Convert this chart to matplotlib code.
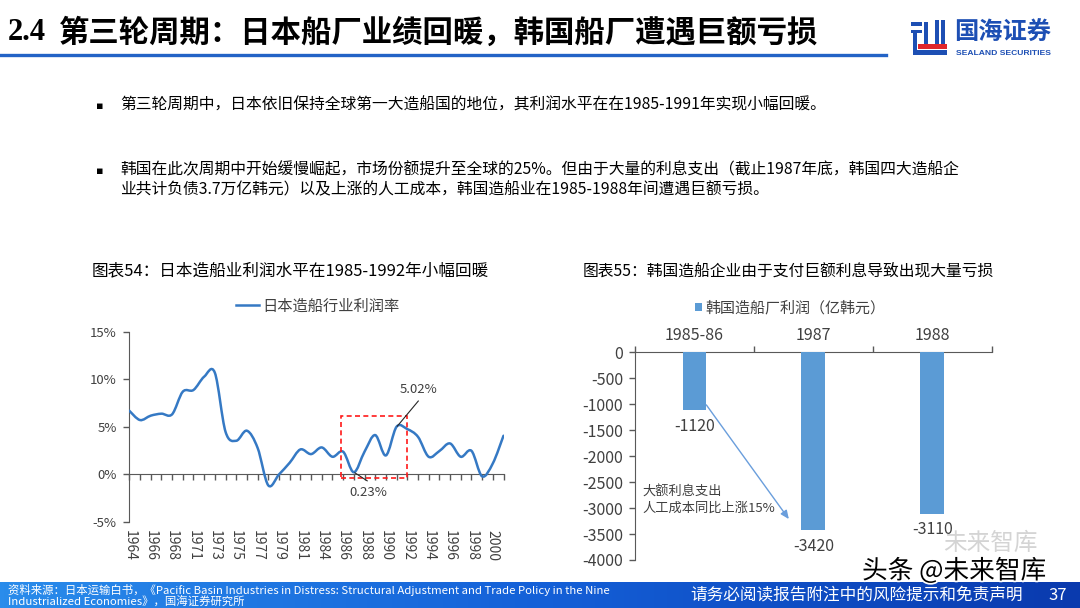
import numpy as np
import matplotlib
matplotlib.use('Agg')
import matplotlib.pyplot as plt
from matplotlib.path import Path
from matplotlib.patches import PathPatch, Rectangle
from matplotlib.lines import Line2D
import matplotlib.patheffects as pe
from matplotlib.colors import LinearSegmentedColormap

plt.rcParams['font.family'] = ['Noto Sans CJK SC', 'DejaVu Sans']

# ---------------- data ----------------
jp_years = ['1964', '1965', '1966', '1967', '1968', '1970', '1971', '1972', '1973',
            '1974', '1975', '1976', '1977', '1978', '1979', '1980', '1981', '1983',
            '1984', '1985', '1986', '1987', '1988', '1989', '1990', '1991', '1992',
            '1993', '1994', '1995', '1996', '1997', '1998', '1999', '2000', '2001']
jp_profit = [6.70, 5.72, 6.18, 6.39, 6.32, 8.70, 8.88, 10.28, 10.70,
             4.49, 3.54, 4.60, 2.80, -1.15, 0.00, 1.23, 2.63, 2.14,
             2.84, 1.86, 2.39, 0.23, 2.39, 4.14, 2.00, 5.02, 4.77,
             3.96, 1.86, 2.46, 3.26, 1.86, 2.49, -0.20, 1.16, 4.07]
jp_series = '日本造船行业利润率'
jp_yticks = [-5, 0, 5, 10, 15]
jp_yticklabels = ['-5%', '0%', '5%', '10%', '15%']

kr_periods = ['1985-86', '1987', '1988']
kr_profit = [-1120, -3420, -3110]
kr_series = '韩国造船厂利润（亿韩元）'
kr_yticks = [0, -500, -1000, -1500, -2000, -2500, -3000, -3500, -4000]

W, H = 1080, 608
fig = plt.figure(figsize=(W / 100, H / 100), dpi=100)
fig.patch.set_facecolor('white')


def fx(px):
    return px / W


def fy(py):
    return 1 - py / H


AX_C = '#595959'
TXT_C = '#404040'

# ---------------- header ----------------
fig.text(fx(8), fy(33), '2.4', family='Liberation Serif', weight='bold',
         fontsize=22, va='center', ha='left', color='black')
fig.text(fx(59), fy(33), '第三轮周期：日本船厂业绩回暖，韩国船厂遭遇巨额亏损',
         weight='bold', fontsize=21.9, va='center', ha='left', color='black')
fig.add_artist(Line2D([0, fx(886)], [fy(54.5), fy(54.5)], color='#2363C6', lw=2.4))

# logo icon (decorative)
def prect(x0, y0, x1, y1, c):
    fig.add_artist(Rectangle((fx(x0), fy(y1)), fx(x1) - fx(x0), fy(y0) - fy(y1),
                             facecolor=c, edgecolor='none'))

LB = '#1D4FB4'
prect(910.5, 22.5, 922, 26, LB)
prect(910.5, 29.5, 922, 33, LB)
prect(913, 33, 917, 50, LB)
prect(923.5, 22.5, 927.5, 44, LB)
prect(934.5, 20.5, 938.5, 44, LB)
prect(940.5, 20.5, 945, 44, LB)
prect(918, 44, 946.5, 49, '#E0262B')
prect(913, 50, 946.5, 55, LB)
fig.text(fx(954), fy(33), '国海证券', weight='bold', fontsize=17.5, color=LB,
         va='center', ha='left')
fig.text(fx(955.5), fy(53.5), 'SEALAND SECURITIES', family='Liberation Sans',
         weight='bold', fontsize=6.1, color=LB, va='center', ha='left')

# ---------------- bullets ----------------
bul_fs = 11.35
fig.text(fx(96), fy(106), '▪', family='DejaVu Sans', fontsize=8, va='center',
         ha='left', color='black')
fig.text(fx(120), fy(105), '第三轮周期中，日本依旧保持全球第一大造船国的地位，其利润水平在在1985-1991年实现小幅回暖。',
         fontsize=bul_fs, va='center', ha='left', color='black')
fig.text(fx(96), fy(171), '▪', family='DejaVu Sans', fontsize=8, va='center',
         ha='left', color='black')
fig.text(fx(120), fy(170), '韩国在此次周期中开始缓慢崛起，市场份额提升至全球的25%。但由于大量的利息支出（截止1987年底，韩国四大造船企',
         fontsize=bul_fs, va='center', ha='left', color='black')
fig.text(fx(120), fy(190), '业共计负债3.7万亿韩元）以及上涨的人工成本，韩国造船业在1985-1988年间遭遇巨额亏损。',
         fontsize=bul_fs, va='center', ha='left', color='black')

# ---------------- chart titles ----------------
fig.text(fx(92), fy(271), '图表54：日本造船业利润水平在1985-1992年小幅回暖',
         fontsize=11.95, va='center', ha='left', color='black')
fig.text(fx(583), fy(271), '图表55：韩国造船企业由于支付巨额利息导致出现大量亏损',
         fontsize=11.35, va='center', ha='left', color='black')

# ---------------- left chart ----------------
axL = fig.add_axes([fx(129.3), fy(522), fx(503.5) - fx(129.3), fy(331.8) - fy(522)])
n = len(jp_profit)
xs = np.arange(n, dtype=float)
ys = np.array(jp_profit, dtype=float)
verts = [(xs[0], ys[0])]
codes = [Path.MOVETO]
for i in range(n - 1):
    p0 = (xs[i - 1], ys[i - 1]) if i > 0 else (xs[i], ys[i])
    p1 = (xs[i], ys[i])
    p2 = (xs[i + 1], ys[i + 1])
    p3 = (xs[i + 2], ys[i + 2]) if i + 2 < n else p2
    c1 = (p1[0] + (p2[0] - p0[0]) / 6, p1[1] + (p2[1] - p0[1]) / 6)
    c2 = (p2[0] - (p3[0] - p1[0]) / 6, p2[1] - (p3[1] - p1[1]) / 6)
    verts += [c1, c2, p2]
    codes += [Path.CURVE4] * 3
LINE_C = '#3579C4'
axL.add_patch(PathPatch(Path(verts, codes), fill=False, edgecolor=LINE_C, lw=1.8,
                        capstyle='round', joinstyle='round', zorder=3))
axL.set_xlim(0, n - 1)
axL.set_ylim(-5, 15)
axL.set_yticks(jp_yticks)
axL.set_yticklabels(jp_yticklabels)
for s in ['top', 'right']:
    axL.spines[s].set_visible(False)
axL.spines['bottom'].set_position(('data', 0))
axL.spines['bottom'].set_color(AX_C)
axL.spines['left'].set_color(AX_C)
axL.set_xticks(np.arange(n))
axL.tick_params(axis='x', direction='out', length=4, width=1, color=AX_C,
                labelbottom=False)
axL.tick_params(axis='y', direction='out', length=4, width=1, color=AX_C,
                labelsize=9.5, labelcolor=TXT_C, pad=5)
sec = axL.secondary_xaxis('bottom')
lab_idx = list(range(0, n, 2))
sec.set_xticks(lab_idx)
sec.set_xticklabels([jp_years[i] for i in lab_idx], rotation=270)
sec.tick_params(length=0, pad=6, labelsize=10, labelcolor=TXT_C)
sec.spines['bottom'].set_visible(False)
axL.add_patch(Rectangle((19.83, -0.42), 6.17, 6.59, fill=False, edgecolor='#FF1A1A',
                        ls=(0, (3, 2)), lw=1.2, zorder=4))
axL.plot([27.03, 25.07], [7.72, 5.08], color='#262626', lw=0.8, zorder=5)
axL.text(27.03, 8.95, '%.2f%%' % jp_profit[25], fontsize=9.5, color=TXT_C,
         ha='center', va='center')
axL.plot([21.1, 22.25], [0.17, -0.67], color='#262626', lw=0.8, zorder=5)
axL.text(22.36, -1.94, '%.2f%%' % jp_profit[21], fontsize=9.5, color=TXT_C,
         ha='center', va='center')
axL.set_facecolor('none')
axL.legend(handles=[Line2D([], [], color=LINE_C, lw=1.8, label=jp_series)],
           loc='center', bbox_to_anchor=(0.503, 1.136), frameon=False,
           fontsize=11, handlelength=1.5, handletextpad=0.2,
           labelcolor=TXT_C)

# ---------------- right chart ----------------
axR = fig.add_axes([fx(635), fy(560), fx(991.7) - fx(635), fy(352.3) - fy(560)])
BAR_C = '#5B9BD5'
bars = axR.bar(np.arange(len(kr_profit)), kr_profit, width=0.2, color=BAR_C,
               label=kr_series, zorder=3)
axR.set_xlim(-0.5, len(kr_profit) - 0.5)
axR.set_ylim(-4000, 0)
axR.set_yticks(kr_yticks)
axR.set_yticklabels([str(v) for v in kr_yticks])
axR.xaxis.tick_top()
axR.set_xticks(np.arange(len(kr_profit) + 1) - 0.5)
axR.set_xticklabels([])
axR.set_xticks(np.arange(len(kr_profit)), minor=True)
axR.set_xticklabels(kr_periods, minor=True)
axR.tick_params(axis='x', which='major', direction='out', length=4, width=1,
                color=AX_C)
axR.tick_params(axis='x', which='minor', length=0, pad=6, labelsize=11.5,
                labelcolor=TXT_C, top=True, labeltop=True, bottom=False,
                labelbottom=False)
axR.tick_params(axis='y', direction='out', length=4, width=1, color=AX_C,
                labelsize=11.5, labelcolor=TXT_C, pad=4.5)
for s in ['bottom', 'right']:
    axR.spines[s].set_visible(False)
axR.spines['top'].set_color(AX_C)
axR.spines['left'].set_color(AX_C)
for rect, v in zip(bars, kr_profit):
    axR.annotate(str(v), (rect.get_x() + rect.get_width() / 2, v),
                 xytext=(0, -5.5), textcoords='offset points', ha='center',
                 va='top', fontsize=11.5, color=TXT_C)
axR.text(-0.435, -2840, '大额利息支出\n人工成本同比上涨15%', fontsize=9.5,
         color=TXT_C, ha='left', va='center', linespacing=1.3)
axR.annotate('', xy=(0.794, -3212), xytext=(0.10, -1013),
             arrowprops=dict(arrowstyle='-|>,head_length=0.5,head_width=0.22',
                             color='#6A9EDC', lw=1.0, shrinkA=0, shrinkB=0))
axR.set_facecolor('none')
axR.legend(loc='center', bbox_to_anchor=(0.434, 1.213), frameon=False,
           fontsize=10.8, handlelength=0.5, handleheight=0.5, handletextpad=0.2,
           labelcolor=TXT_C)

# ---------------- footer ----------------
axF = fig.add_axes([0, 0, 1, 26 / H])
axF.axis('off')
cmap = LinearSegmentedColormap.from_list('band', ['#2A8CEB', '#1460D8', '#0A3AAE'])
axF.imshow(np.linspace(0, 1, 256).reshape(1, -1), aspect='auto', cmap=cmap,
           extent=[0, 1, 0, 1])
fig.text(fx(8), fy(590), '资料来源：日本运输白书，《Pacific Basin Industries in Distress: Structural Adjustment and Trade Policy in the Nine',
         fontsize=8.2, color='white', va='center', ha='left')
fig.text(fx(8), fy(602.5), 'Industrialized Economies》，国海证券研究所',
         fontsize=8.2, color='white', va='center', ha='left')
fig.text(fx(690), fy(596), '请务必阅读报告附注中的风险提示和免责声明', fontsize=12,
         color='white', va='center', ha='left')
fig.text(fx(1048), fy(596), '37', fontsize=12, color='white', va='center', ha='left')

# watermark
fig.text(fx(943), fy(543), '未来智库', fontsize=17, color='#d4d4d4', va='center',
         ha='left')
fig.text(fx(862), fy(571), '头条 @未来智库', fontsize=18.5, color='black', va='center',
         ha='left', path_effects=[pe.withStroke(linewidth=2.5, foreground='white')])

fig.savefig('out.png', dpi=100)
